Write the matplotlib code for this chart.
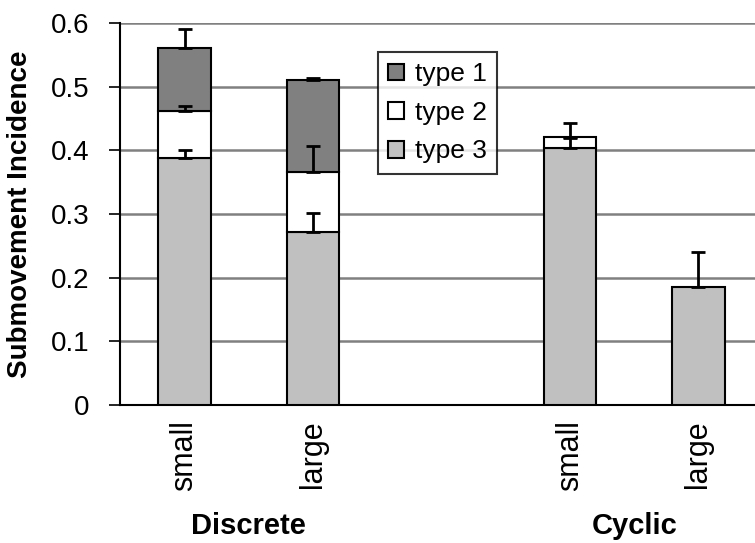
import numpy as np
import matplotlib.pyplot as plt

plt.rcParams['font.family'] = ['Liberation Sans', 'DejaVu Sans']

# values
positions = [0, 1, 3, 4]
conditions = ['small', 'large', 'small', 'large']
groups = ['Discrete', 'Cyclic']
group_pos = [0.5, 3.5]

type3 = [0.388, 0.272, 0.404, 0.186]
type2 = [0.074, 0.094, 0.017, 0.0]
type1 = [0.099, 0.144, 0.0, 0.0]

err3 = [0.012, 0.030, 0.015, 0.054]
err2 = [0.008, 0.040, 0.022, 0.0]
err1 = [0.030, 0.003, 0.0, 0.0]

yticks = [0, 0.1, 0.2, 0.3, 0.4, 0.5, 0.6]
ytick_labels = ['0', '0.1', '0.2', '0.3', '0.4', '0.5', '0.6']

fig = plt.figure(figsize=(7.55, 5.43), dpi=100)
ax = fig.add_axes([0.159, 0.254, 0.841, 0.704])

t3 = np.array(type3)
t2 = np.array(type2)
t1 = np.array(type1)

w = 0.41
ekw = dict(elinewidth=2, capthick=2, ecolor='black')

b3 = ax.bar(positions, t3, w, color='#c0c0c0', edgecolor='black', linewidth=1.5,
            label='type 3', zorder=3)
ax.errorbar(positions, t3, yerr=[np.zeros(4), err3], fmt='none', capsize=5, zorder=4, **ekw)

m2 = t2 > 0
b2 = ax.bar(np.array(positions)[m2], t2[m2], w, bottom=t3[m2], color='white',
            edgecolor='black', linewidth=1.5, label='type 2', zorder=3)
ax.errorbar(np.array(positions)[m2], (t3 + t2)[m2], yerr=[np.zeros(m2.sum()), np.array(err2)[m2]],
            fmt='none', capsize=5, zorder=4, **ekw)

m1 = t1 > 0
b1 = ax.bar(np.array(positions)[m1], t1[m1], w, bottom=(t3 + t2)[m1], color='#808080',
            edgecolor='black', linewidth=1.5, label='type 1', zorder=3)
ax.errorbar(np.array(positions)[m1], (t3 + t2 + t1)[m1], yerr=[np.zeros(m1.sum()), np.array(err1)[m1]],
            fmt='none', capsize=5, zorder=4, **ekw)

ax.set_ylim(0, 0.6)
ax.set_xlim(-0.502, 4.44)
ax.set_yticks(yticks)
ax.set_yticklabels(ytick_labels)
ax.set_xticks(positions)
ax.set_xticklabels(conditions, rotation=90)
ax.tick_params(axis='y', labelsize=20, length=8, width=1.2, pad=14)
ax.tick_params(axis='x', labelsize=22, length=0, pad=11)

ax.yaxis.grid(True, color='#808080', linewidth=1.8, zorder=0)
ax.set_axisbelow(True)
for s in ['top', 'right']:
    ax.spines[s].set_visible(False)
ax.spines['left'].set_linewidth(1.5)
ax.spines['bottom'].set_linewidth(1.5)

ax.set_ylabel('Submovement Incidence', fontsize=20, fontweight='bold')
ax.yaxis.set_label_coords(-0.137, 0.5)

for gx, g in zip(group_pos, groups):
    ax.text(gx, -0.317, g, transform=ax.get_xaxis_transform(), ha='center', va='center',
            fontsize=21, fontweight='bold')

leg = ax.legend(handles=[b1, b2, b3], loc='upper left', bbox_to_anchor=(0.406, 0.924),
                borderaxespad=0, fontsize=19, fancybox=False, frameon=True,
                handlelength=0.6, handleheight=0.6, handletextpad=0.4,
                labelspacing=0.55, borderpad=0.4)
leg.get_frame().set_edgecolor('black')
leg.get_frame().set_linewidth(1.5)

fig.savefig('out.png', dpi=100)
